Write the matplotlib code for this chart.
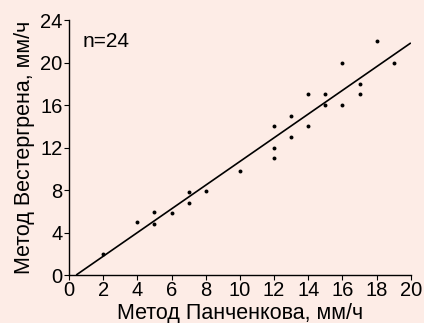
import numpy as np
import matplotlib.pyplot as plt
from matplotlib import rcParams

rcParams.update({
    "font.family": ["Liberation Sans", "DejaVu Sans"],
    "font.size": 15.5,
    "xtick.labelsize": 14.5,
    "ytick.labelsize": 14.5,
    "axes.linewidth": 1.0,
    "xtick.major.size": 3.5,
    "ytick.major.size": 3.5,
    "xtick.major.pad": 1.0,
    "ytick.major.pad": 1.0,
})

# Panchenkov (x) vs Westergren (y), mm/h
panchenkov = [2, 4, 5, 5, 6, 7, 7, 8, 10, 12, 12, 12,
              13, 13, 14, 14, 15, 15, 16, 16, 17, 17, 18, 19]
westergren = [2, 5, 5.9, 4.8, 5.8, 7.8, 6.8, 7.9, 9.8, 14, 12, 11,
              15, 13, 17, 14, 17, 16, 20, 16, 18, 17, 22, 20]

x = np.array(panchenkov, dtype=float)
y = np.array(westergren, dtype=float)
slope, intercept = np.polyfit(x, y, 1)

bg = "#fdece6"
fig = plt.figure(figsize=(4.24, 3.23), dpi=100, facecolor=bg)
ax = fig.add_axes([0.1627, 0.1486, 0.969 - 0.1627, 0.938 - 0.1486])
ax.set_facecolor(bg)

x0 = max(-intercept / slope, 0)
xl = np.array([x0, 20])
ax.plot(xl, intercept + slope * xl, color="black", lw=1.2, solid_capstyle="butt")
ax.scatter(x, y, s=8, color="black", zorder=3, linewidths=0)

ax.text(0.8, 22, "n=24", va="center", ha="left", fontsize=15)

ax.set_xlim(0, 20)
ax.set_ylim(0, 24)
ax.set_xticks(range(0, 21, 2))
ax.set_yticks(range(0, 25, 4))
for s in ("top", "right"):
    ax.spines[s].set_visible(False)

ax.set_xlabel("Метод Панченкова, мм/ч", labelpad=2)
ax.set_ylabel("Метод Вестергрена, мм/ч", labelpad=4)

fig.savefig("out.png", dpi=100, facecolor=bg)
